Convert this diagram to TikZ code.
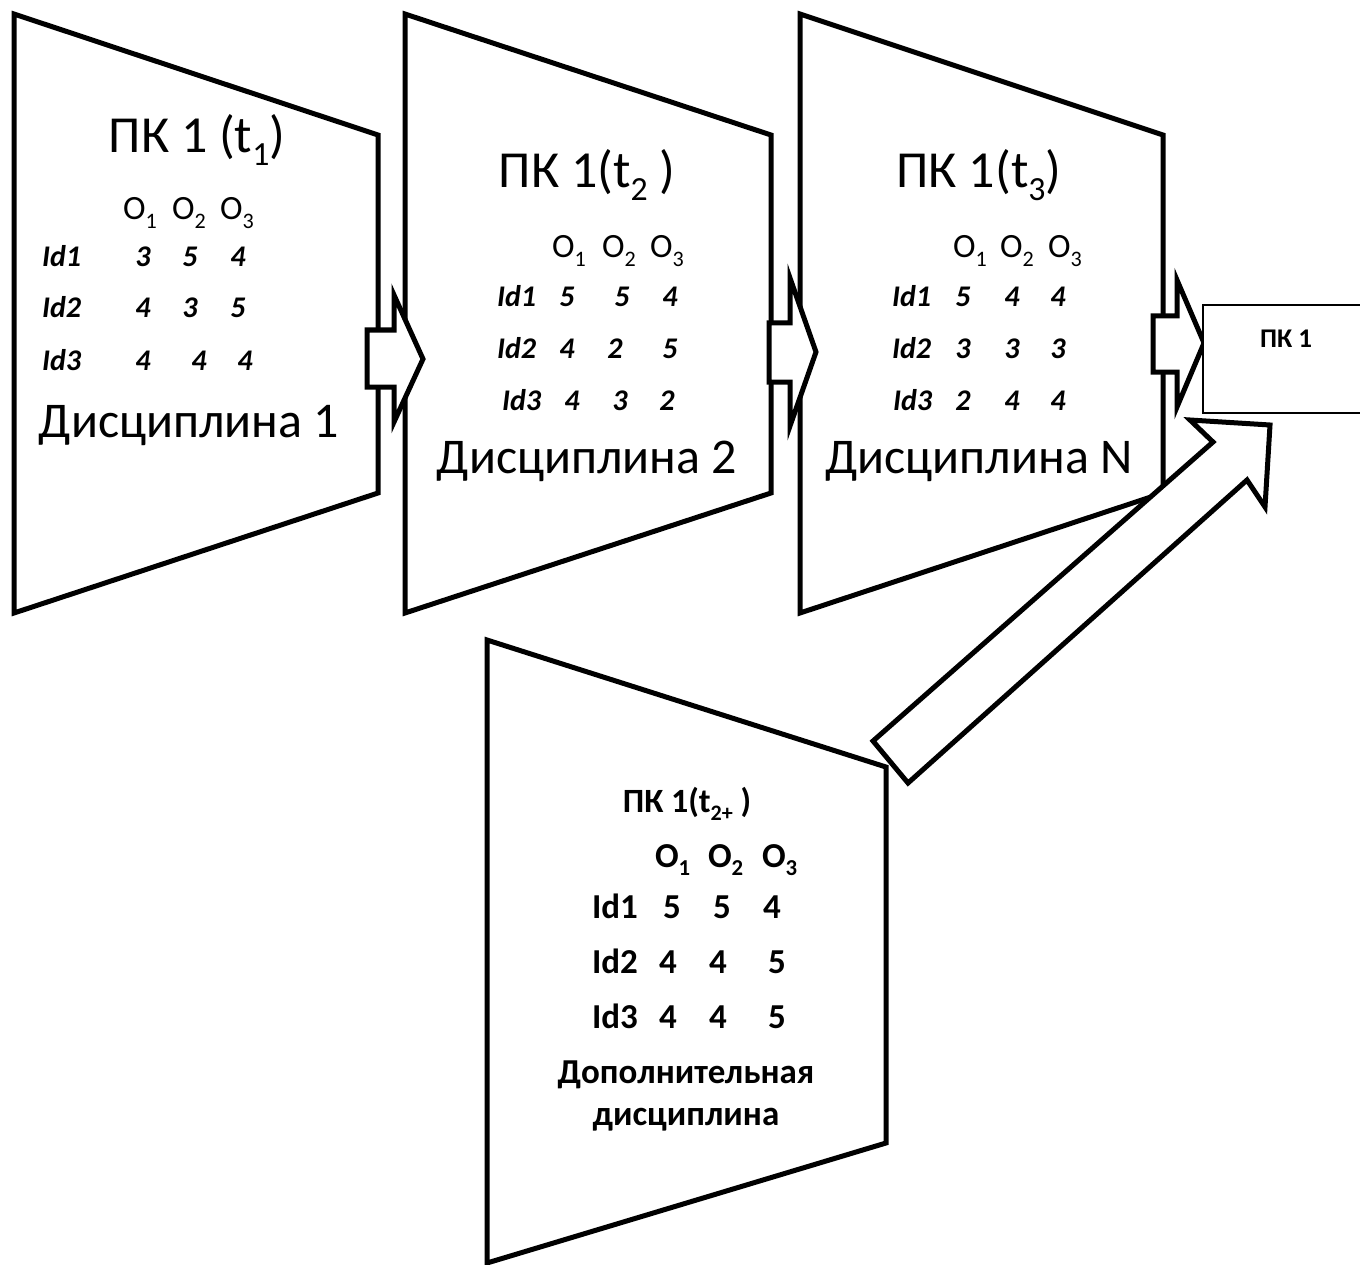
\documentclass[tikz,border=0pt]{standalone}
\usepackage{fontspec}
\setmainfont{Carlito}
\usepackage{graphicx}
% lowered, reduced-size subscript in the current text font
\newcommand\lsub[1]{\raisebox{-0.25em}{\scalebox{0.65}{#1}}}
\tikzset{
  panel/.style={draw=black, line width=5pt, line join=miter},
  blockarrow/.style={draw=black, fill=white, line width=5pt, line join=miter},
  resultbox/.style={draw=black, fill=white, line width=2.5pt},
  txt/.style={inner sep=0pt, outer sep=0pt},
  head/.style={txt, anchor=base, font=\fontsize{52}{60}\selectfont},
  disc/.style={txt, anchor=base, font=\fontsize{50}{58}\selectfont},
  obj/.style={txt, anchor=base west, font=\fontsize{34}{40}\selectfont},
  idl/.style={txt, anchor=base west, font=\fontsize{30}{36}\selectfont\bfseries\itshape},
  val/.style={txt, anchor=base, font=\fontsize{30}{36}\selectfont\bfseries\itshape},
  bhead/.style={txt, anchor=base, font=\fontsize{34}{40}\selectfont\bfseries},
  bobj/.style={txt, anchor=base west, font=\fontsize{35}{40}\selectfont\bfseries},
  bidl/.style={txt, anchor=base west, font=\fontsize{35}{40}\selectfont\bfseries},
  bval/.style={txt, anchor=base, font=\fontsize{35}{40}\selectfont\bfseries},
  btext/.style={txt, anchor=base, font=\fontsize{35}{40}\selectfont\bfseries},
  boxlabel/.style={txt, anchor=base, font=\fontsize{27}{32}\selectfont\bfseries},
}
\begin{document}
\begin{tikzpicture}[x=1pt, y=-1pt]
\useasboundingbox (0,0) rectangle (1360,1265);
\clip (0,0) rectangle (1360,1265);

% discipline panels (trapezoids)
\coordinate (p1a) at (14,14);   \coordinate (p1b) at (378,135);
\coordinate (p1c) at (378,493); \coordinate (p1d) at (14,613);
\coordinate (p2a) at (405,14);  \coordinate (p2b) at (771,135);
\coordinate (p2c) at (771,493); \coordinate (p2d) at (405,613);
\coordinate (p3a) at (800,14);  \coordinate (p3b) at (1163,135);
\coordinate (p3c) at (1163,493);\coordinate (p3d) at (800,613);
\coordinate (p4a) at (487,640); \coordinate (p4b) at (886,767);
\coordinate (p4c) at (886,1143);\coordinate (p4d) at (487,1263);

\draw[panel] (p1a) -- (p1b) -- (p1c) -- (p1d) -- cycle;
\draw[panel] (p2a) -- (p2b) -- (p2c) -- (p2d) -- cycle;
\draw[panel] (p3a) -- (p3b) -- (p3c) -- (p3d) -- cycle;
\draw[panel] (p4a) -- (p4b) -- (p4c) -- (p4d) -- cycle;

% block arrows between panels
\draw[blockarrow] (367,330) -- (394,330) -- (394,295) -- (423,359) -- (394,422) -- (394,387) -- (367,387) -- cycle;
\draw[blockarrow] (769,323) -- (790,323) -- (790,278) -- (816,352) -- (790,426) -- (790,382) -- (769,382) -- cycle;
\draw[blockarrow] (1153,316) -- (1177,316) -- (1177,280) -- (1204,343) -- (1177,407) -- (1177,372) -- (1153,372) -- cycle;

% result box
\draw[resultbox] (1203,305) rectangle (1372,413);
\node[boxlabel] (res) at (1286,347) {ПК 1};

% diagonal arrow from the additional discipline
\draw[blockarrow] (873,741) -- (1213,442) -- (1190,420) -- (1270,425) -- (1265,507) -- (1247,480) -- (908,783) -- cycle;

% panel 1
\node[head] (h1) at (197,153) {ПК 1 (t\lsub{1})};
\node[obj] (o11) at (123,220) {O\lsub{1}};
\node[obj] (o12) at (172,220) {O\lsub{2}};
\node[obj] (o13) at (220,220) {O\lsub{3}};
\node[idl] (i11) at (42,267) {Id1};
\node[idl] (i12) at (42,318) {Id2};
\node[idl] (i13) at (42,370) {Id3};
\node[val] at (143,267) {3}; \node[val] at (190,267) {5}; \node[val] at (238,267) {4};
\node[val] at (143,318) {4}; \node[val] at (190,318) {3}; \node[val] at (238,318) {5};
\node[val] at (143,370) {4}; \node[val] at (199,370) {4}; \node[val] at (245,370) {4};
\node[disc] (d1) at (189,437) {Дисциплина 1};

% panel 2
\node[head] (h2) at (587,188) {ПК 1(t\lsub{2} )};
\node[obj] (o21) at (552,258) {O\lsub{1}};
\node[obj] (o22) at (602,258) {O\lsub{2}};
\node[obj] (o23) at (650,258) {O\lsub{3}};
\node[idl] (i21) at (497,307) {Id1};
\node[idl] (i22) at (497,358) {Id2};
\node[idl] (i23) at (502,410) {Id3};
\node[val] at (567,307) {5}; \node[val] at (622,307) {5}; \node[val] at (670,307) {4};
\node[val] at (567,358) {4}; \node[val] at (615,358) {2}; \node[val] at (670,358) {5};
\node[val] at (572,410) {4}; \node[val] at (620,410) {3}; \node[val] at (667,410) {2};
\node[disc] (d2) at (587,473) {Дисциплина 2};

% panel 3
\node[head] (h3) at (979,188) {ПК 1(t\lsub{3})};
\node[obj] (o31) at (953,258) {O\lsub{1}};
\node[obj] (o32) at (1000,258) {O\lsub{2}};
\node[obj] (o33) at (1048,258) {O\lsub{3}};
\node[idl] (i31) at (892,307) {Id1};
\node[idl] (i32) at (892,358) {Id2};
\node[idl] (i33) at (893,410) {Id3};
\node[val] at (963,307) {5}; \node[val] at (1012,307) {4}; \node[val] at (1058,307) {4};
\node[val] at (963,358) {3}; \node[val] at (1012,358) {3}; \node[val] at (1058,358) {3};
\node[val] at (963,410) {2}; \node[val] at (1012,410) {4}; \node[val] at (1058,410) {4};
\node[disc] (d3) at (979,473) {Дисциплина N};

% panel 4 (additional discipline)
\node[bhead] (h4) at (687,812) {ПК 1(t\lsub{2+} )};
\node[bobj] (o41) at (655,867) {O\lsub{1}};
\node[bobj] (o42) at (708,867) {O\lsub{2}};
\node[bobj] (o43) at (762,867) {O\lsub{3}};
\node[bidl] (i41) at (592,918) {Id1};
\node[bidl] (i42) at (592,973) {Id2};
\node[bidl] (i43) at (592,1028) {Id3};
\node[bval] at (672,918) {5}; \node[bval] at (722,918) {5}; \node[bval] at (772,918) {4};
\node[bval] at (668,973) {4}; \node[bval] at (718,973) {4}; \node[bval] at (777,973) {5};
\node[bval] at (668,1028) {4}; \node[bval] at (718,1028) {4}; \node[bval] at (777,1028) {5};
\node[btext] (d4a) at (686,1083) {Дополнительная};
\node[btext] (d4b) at (686,1125) {дисциплина};
\end{tikzpicture}
\end{document}
